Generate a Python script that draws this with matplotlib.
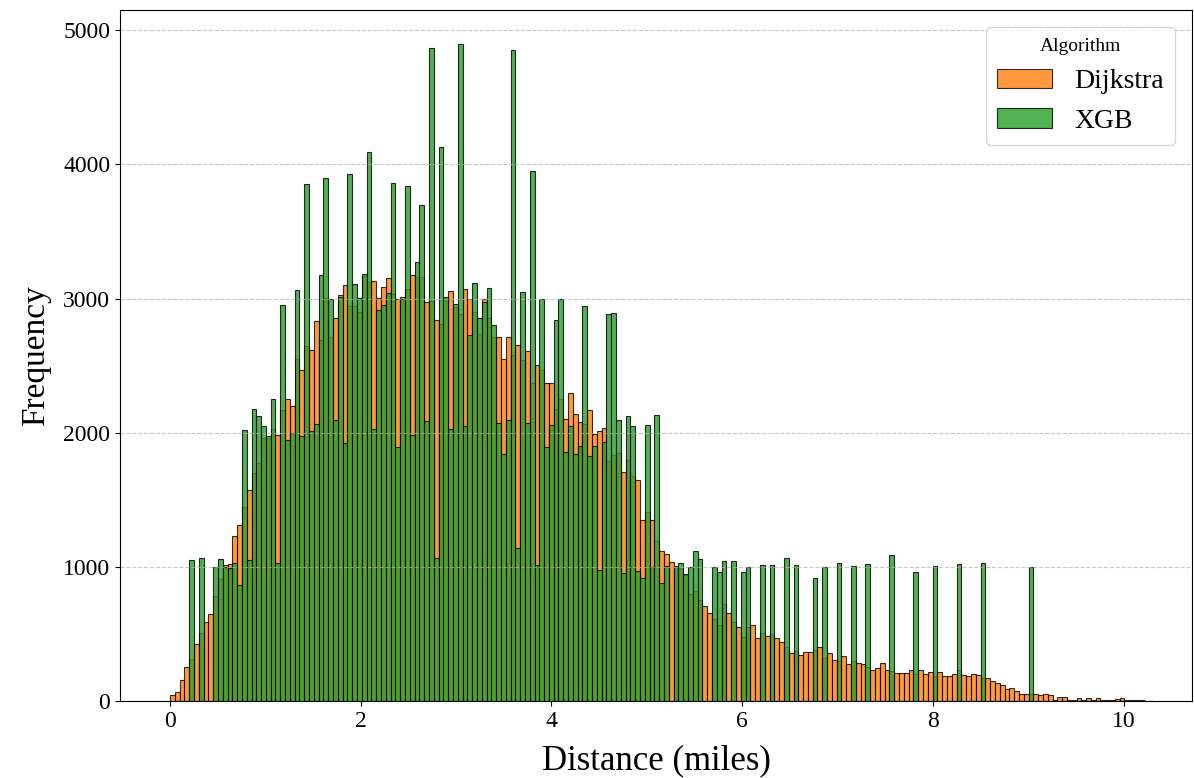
import numpy as np
import matplotlib
matplotlib.use("Agg")
import matplotlib.pyplot as plt

plt.rcParams["font.family"] = ["Liberation Serif", "DejaVu Serif"]

# histogram bins (miles): 205 bins of ~0.0503 mi starting at 0
bin_start = 0.0
bin_stop = 10.31
n_bins = 205

dijkstra_counts = [
    42, 70, 156, 255, 316, 426, 505, 588, 650, 782,
    906, 1012, 1024, 1227, 1311, 1446, 1574, 1701, 1773, 1960,
    1960, 2027, 1986, 2170, 2250, 2198, 2548, 2468, 2645, 2617,
    2832, 2693, 3007, 2711, 2856, 3030, 3098, 2941, 2941, 2902,
    3170, 3121, 3131, 3007, 3089, 3151, 3033, 3000, 3010, 3072,
    3174, 3164, 3164, 2974, 2984, 2843, 2810, 3000, 3059, 2934,
    2885, 3072, 3000, 2902, 2738, 3000, 2852, 2711, 2711, 2551,
    2711, 2580, 2656, 2541, 2607, 2367, 2505, 2466, 2370, 2370,
    2174, 2252, 2105, 2295, 2138, 2082, 2066, 2170, 1993, 2010,
    2033, 1787, 1836, 1852, 1705, 1793, 1679, 1646, 1351, 1410,
    1351, 1190, 1115, 1092, 1035, 1000, 995, 940, 800, 823,
    753, 708, 653, 611, 569, 723, 653, 586, 554, 479,
    549, 566, 466, 506, 486, 499, 469, 436, 399, 354,
    369, 344, 367, 367, 379, 399, 317, 361, 306, 299,
    336, 274, 299, 286, 274, 254, 229, 249, 281, 229,
    224, 211, 211, 211, 229, 204, 229, 204, 219, 187,
    219, 184, 184, 204, 229, 194, 187, 204, 192, 174,
    174, 150, 137, 120, 90, 100, 75, 52, 50, 50,
    55, 42, 55, 45, 8, 28, 28, 10, 10, 20,
    6, 20, 10, 20, 6, 6, 10, 12, 20, 4,
    4, 6, 4, 3, 2,
]

xgb_counts = [
    0, 0, 0, 0, 1048, 0, 1065, 0, 0, 1002,
    1056, 996, 994, 1025, 865, 2021, 1050, 2180, 2121, 2048,
    1972, 2250, 1028, 2953, 1945, 2000, 3062, 1972, 3855, 2010,
    2064, 3178, 3899, 2993, 2095, 3010, 1925, 3928, 3111, 3007,
    3180, 4089, 2026, 2911, 2951, 3043, 3859, 1895, 3000, 3836,
    1984, 3269, 3698, 2089, 4869, 1066, 4131, 3010, 2026, 2957,
    4895, 2049, 2728, 3118, 2852, 2974, 3082, 2803, 2075, 1843,
    2098, 4849, 1138, 3049, 2075, 3948, 1016, 2997, 1892, 2059,
    2843, 2993, 1859, 2049, 1843, 1902, 2941, 1826, 1902, 980,
    1934, 2882, 2889, 2098, 957, 2121, 2049, 967, 918, 2059,
    1000, 2130, 883, 1005, 0, 1007, 1025, 950, 1000, 1119,
    1057, 0, 0, 1002, 965, 1040, 0, 1040, 0, 965,
    1002, 0, 0, 1017, 0, 1012, 0, 0, 1065, 0,
    1012, 0, 0, 0, 915, 0, 1002, 0, 0, 1030,
    0, 0, 1007, 0, 0, 1022, 0, 0, 0, 0,
    1090, 0, 0, 0, 0, 960, 0, 0, 0, 1007,
    0, 0, 0, 0, 1022, 0, 0, 0, 0, 1030,
    0, 0, 0, 0, 0, 0, 0, 0, 0, 1000,
    0, 0, 0, 0, 0, 0, 0, 0, 0, 0,
    0, 0, 0, 0, 0, 0, 0, 0, 0, 0,
    0, 0, 0, 0, 0,
]

series = [
    ("Dijkstra", dijkstra_counts, "#ff7f0e", 0.8),
    ("XGB", xgb_counts, "#2ca02c", 0.82),
]

edges = np.linspace(bin_start, bin_stop, n_bins + 1)
centers = (edges[:-1] + edges[1:]) / 2

fig = plt.figure(figsize=(11.94, 7.78), dpi=100)
ax = fig.add_axes([0.1005, 0.099, 0.8978, 0.888])

for name, counts, color, alpha in series:
    ax.hist(centers, bins=edges, weights=counts, color=color, alpha=alpha,
            edgecolor="black", linewidth=0.8, label=name)

ax.set_xlim(-0.524, 10.716)
ax.set_ylim(0, 5150)
ax.set_xticks([0, 2, 4, 6, 8, 10])
ax.set_yticks([0, 1000, 2000, 3000, 4000, 5000])
ax.tick_params(labelsize=17)
ax.set_xlabel("Distance (miles)", fontsize=25, labelpad=9)
ax.set_ylabel("Frequency", fontsize=24, labelpad=9)
ax.grid(axis="y", linestyle="--", alpha=0.7)

leg = ax.legend(title="Algorithm", loc="upper right", fontsize=20,
                title_fontsize=14, borderaxespad=0.6)

fig.savefig("out.png", dpi=100)
